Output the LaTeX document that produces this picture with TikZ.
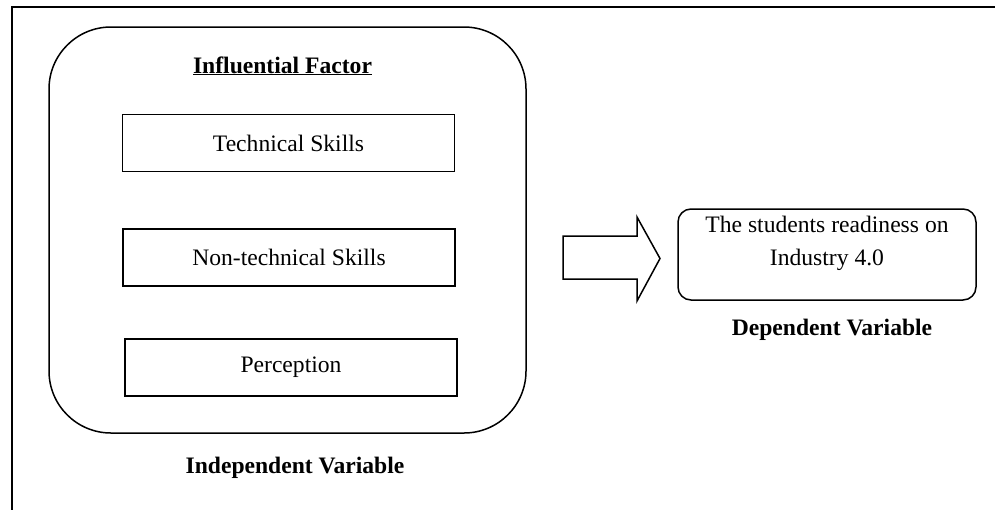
\documentclass[tikz,border=0pt]{standalone}
\usepackage{fontspec}
\setmainfont{Liberation Serif}

\begin{document}
\begin{tikzpicture}[x=1pt,y=-1pt,
  frame/.style={black,line width=2.4pt},
  factor/.style={draw,line width=1.5pt,inner sep=0pt,minimum width=332pt,minimum height=57pt,font=\fontsize{23.6}{28}\selectfont},
  group/.style={draw,line width=1.5pt,rounded corners=62pt,inner sep=0pt},
  outcome/.style={draw,line width=1.5pt,rounded corners=13pt,inner sep=0pt},
  plain/.style={align=center,font=\fontsize{23.6}{33}\selectfont},
  caption/.style={font=\fontsize{23.6}{28}\selectfont\bfseries},
  blockarrow/.style={draw,line width=1.5pt,line join=miter}]
  \useasboundingbox (0,0) rectangle (995,509);
  % frame, cut off on the right and at the bottom
  \draw[frame] (12,512) -- (12,7) -- (998,7);
  % independent variables
  \node[group,minimum width=477pt,minimum height=406pt] (influence) at (287.5,230) {};
  \node[caption,anchor=base] (title) at (282.5,73) {\underline{Influential Factor}};
  \node[factor] (technical) at (288.5,143) {Technical Skills};
  \node[factor] (nontechnical) at (289,257.5) {Non-technical Skills};
  \node[factor] (perception) at (291,367.5) {Perception};
  \node[caption,anchor=base] (indep) at (295,473) {Independent Variable};
  % block arrow
  \draw[blockarrow] (563,236) -- (637,236) -- (637,217) -- (660,258.5) -- (637,301) -- (637,279) -- (563,279) -- cycle;
  % dependent variable
  \node[outcome,minimum width=298pt,minimum height=91pt] (readiness) at (827,254.5) {};
  \node[plain] (readinesstext) at (827,243) {The students readiness on\\Industry 4.0};
  \node[caption,anchor=base] (dep) at (832,335) {Dependent Variable};
\end{tikzpicture}
\end{document}
